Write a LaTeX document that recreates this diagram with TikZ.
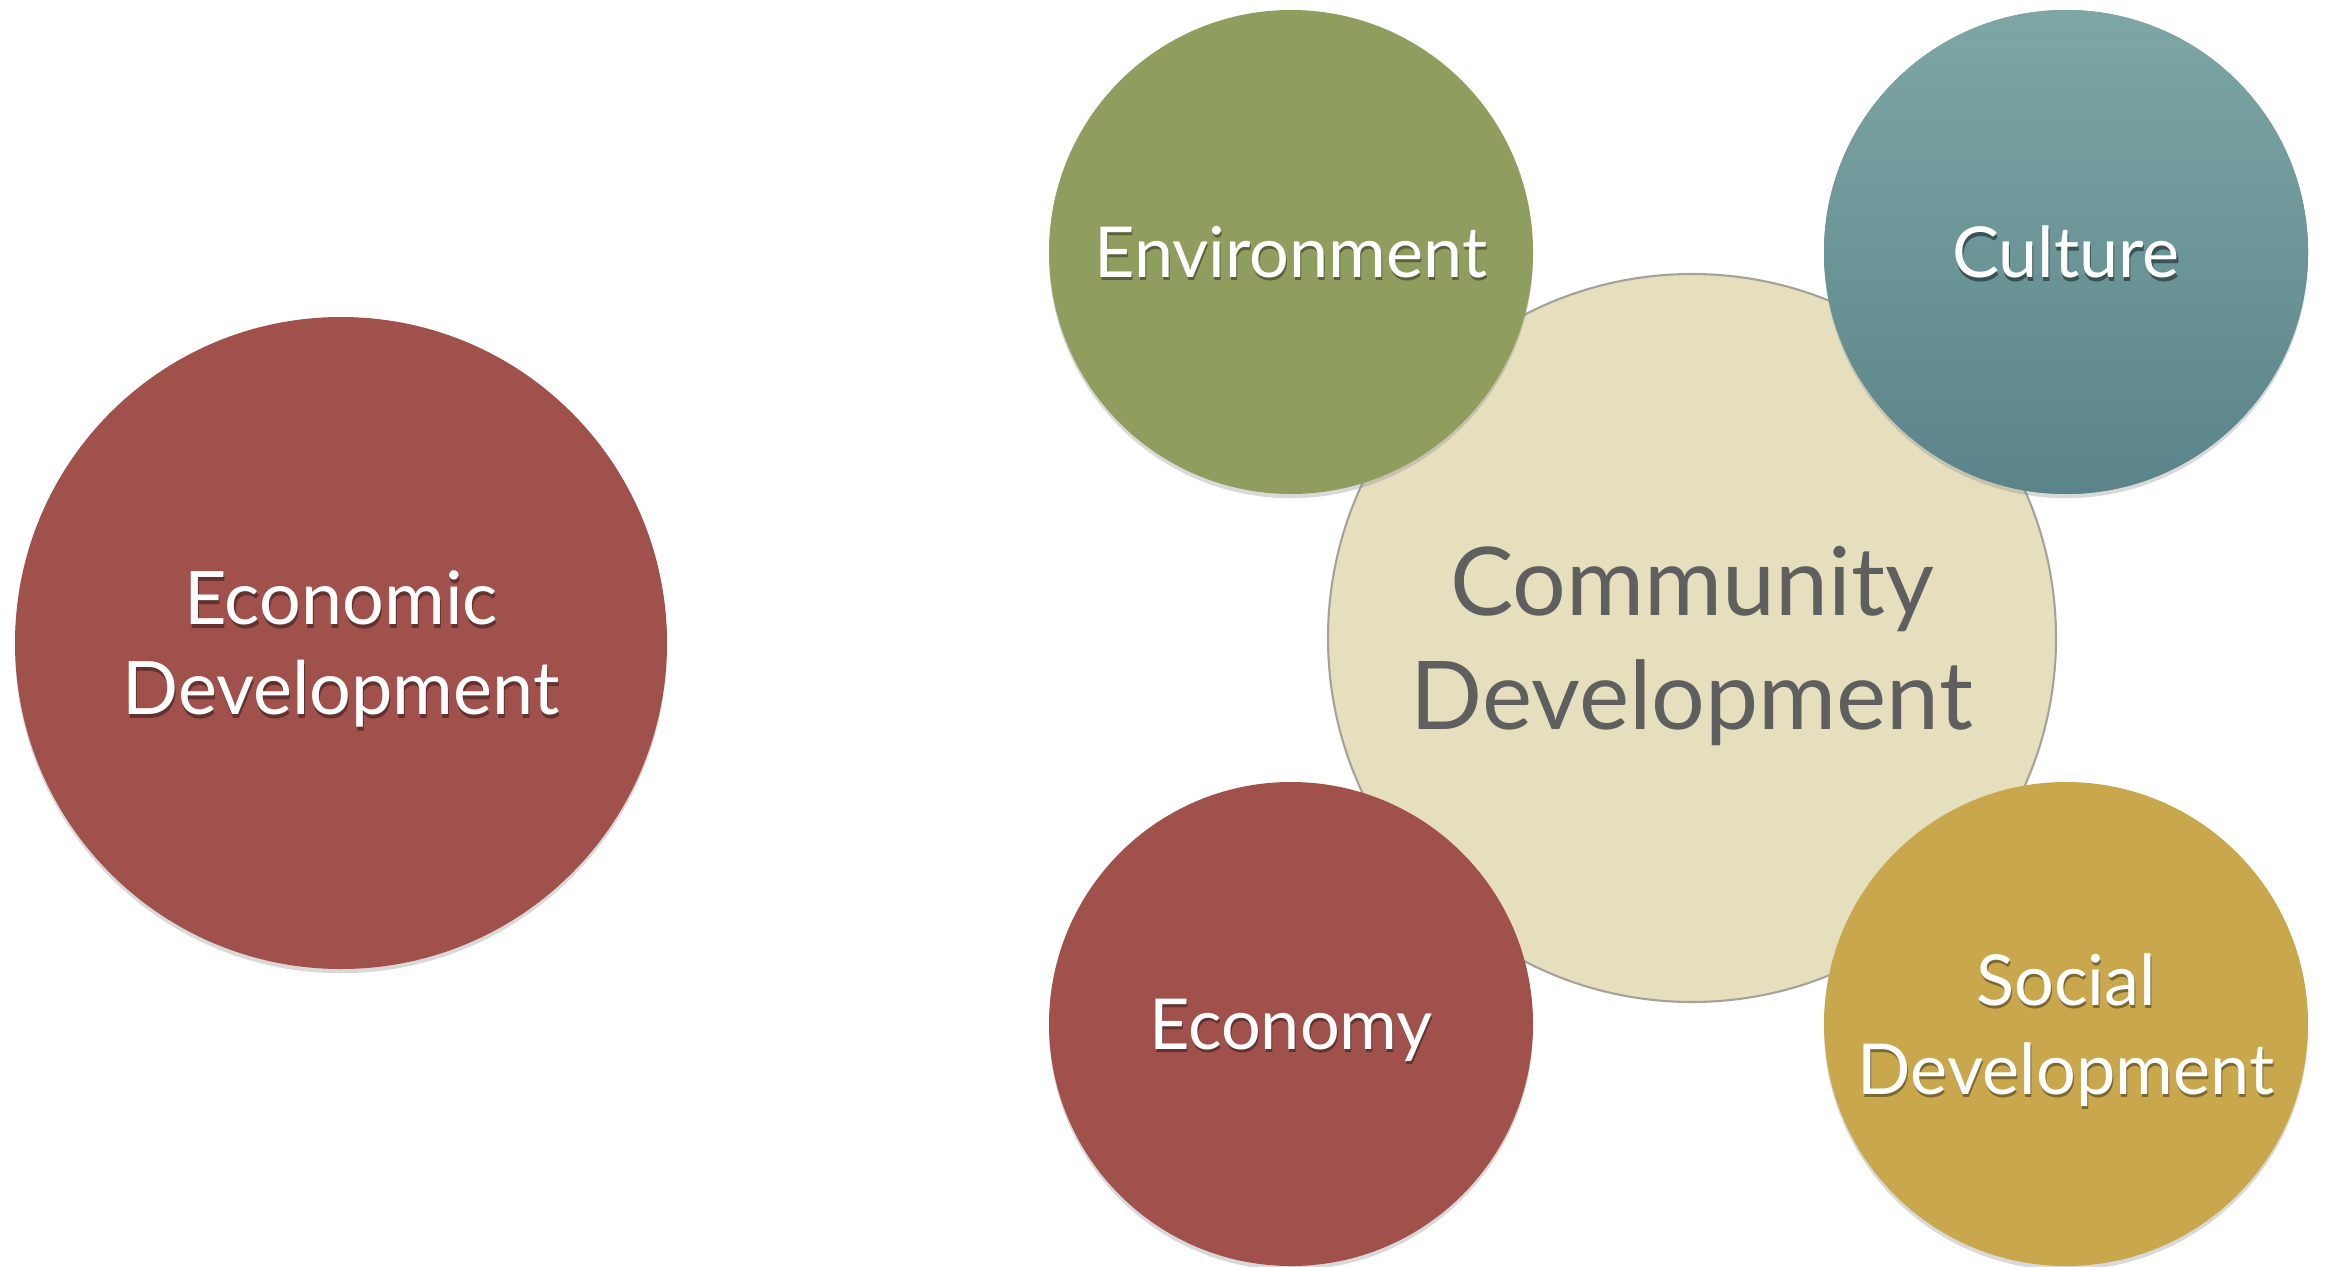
\documentclass[tikz,border=0pt]{standalone}
\usepackage{fontspec}
\setmainfont{Lato}
\usepackage{xcolor}
\usepackage{tikz}
\usetikzlibrary{shapes,positioning,shadows,calc}

\definecolor{brick}{HTML}{A0514C}
\definecolor{moss}{HTML}{8F9E5E}
\definecolor{tealtop}{HTML}{7EA6A5}
\definecolor{tealbot}{HTML}{5A848A}
\definecolor{sand}{HTML}{E6DFBE}
\definecolor{sandline}{HTML}{A6A29A}
\definecolor{mustard}{HTML}{C9A74C}
\definecolor{slate}{HTML}{5F5F5F}
\colorlet{textshade}{black}

% white label with a soft dark copy under it
\newcommand{\embossed}[1]{\leavevmode\rlap{\kern0.3pt\raisebox{-0.9pt}{\color{textshade}#1}}#1}

\begin{document}
\begin{tikzpicture}[every node/.style={font=\fontsize{20}{25.3}\selectfont}]
  \tikzset{
    bubble/.style={circle, fill=#1, minimum size=48.4mm, inner sep=0pt, align=center, text=white,
      text depth=0pt,
      drop shadow={shadow xshift=0pt, shadow yshift=-1.2pt, opacity=0.3},
      execute at begin node={\colorlet{textshade}{#1!62!black}}},
    hub/.style={circle, fill=sand, draw=sandline, line width=0.6pt, minimum size=72.8mm, inner sep=0pt,
      align=center, text=slate, text depth=0pt, font=\fontsize{27}{32.4}\selectfont}
  }
  \useasboundingbox (0,0) rectangle (23.27,12.66);

  % left circle
  \node[bubble=brick, minimum size=65.2mm, font=\fontsize{21}{25.6}\selectfont] (econdev) at (3.41,6.23)
    {\embossed{Economic}\\\embossed{Development}};

  % hub and its four satellites
  \node[hub] (community) at (16.92,6.28) {Community\\Development};
  \node[bubble=moss] (environment) at (12.91,10.14) {\embossed{Environment}};
  \node[bubble=tealbot, top color=tealtop, bottom color=tealbot] (culture) at (20.66,10.14) {\embossed{Culture}};
  \node[bubble=brick] (economy) at (12.91,2.42) {\embossed{Economy}};
  \node[bubble=mustard] (social) at (20.66,2.42) {\embossed{Social}\\\embossed{Development}};
\end{tikzpicture}
\end{document}
